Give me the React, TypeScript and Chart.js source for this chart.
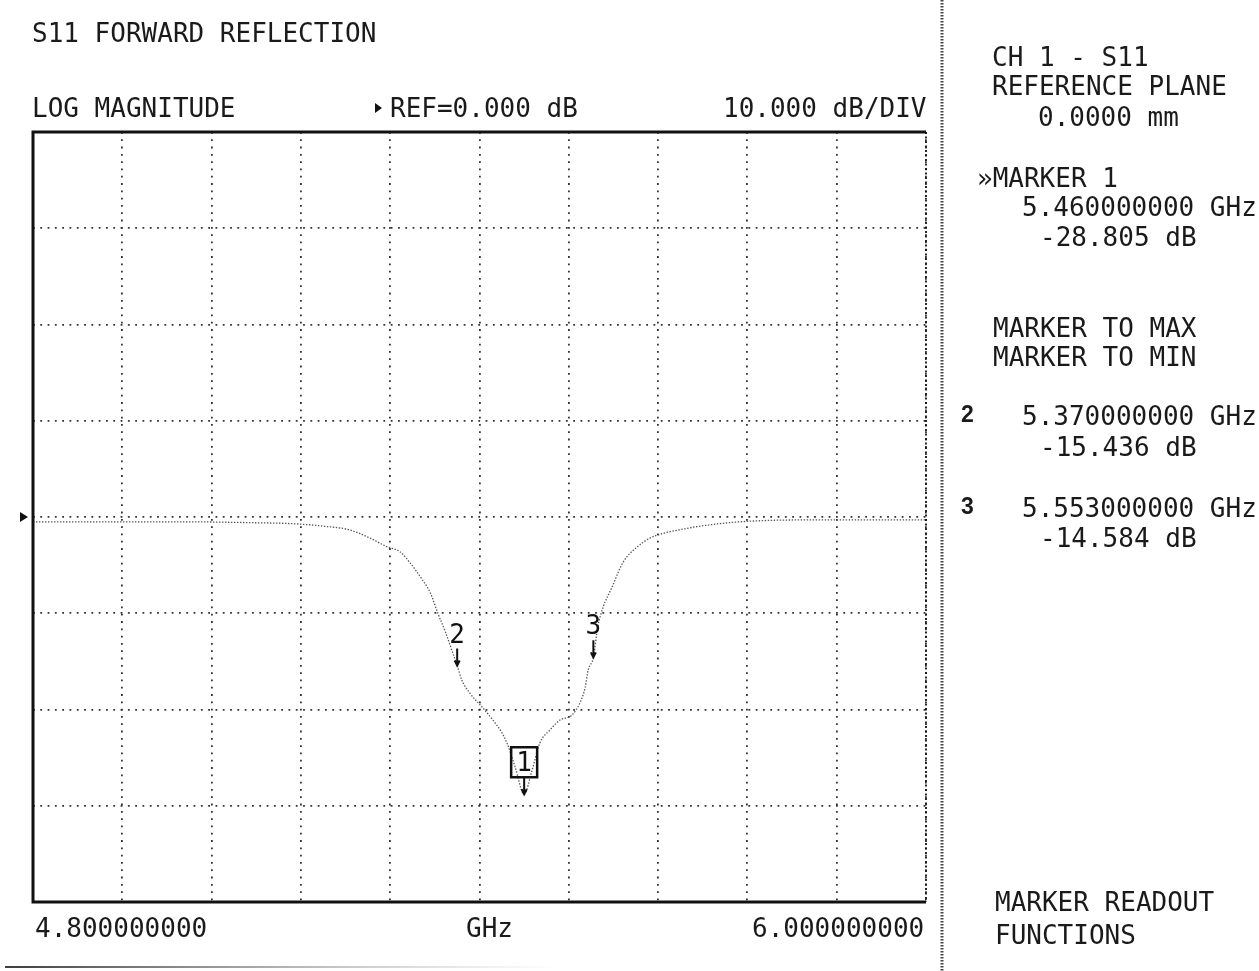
import React, { useEffect, useRef } from "react";
import { Chart, registerables } from "chart.js";

Chart.register(...registerables);

// ---- data ----
const freqGHz = [
  4.8, 4.9, 5.0, 5.1, 5.15, 5.19, 5.226, 5.253, 5.276, 5.293, 5.307, 5.323,
  5.334, 5.344, 5.354, 5.364, 5.37, 5.376, 5.387, 5.403, 5.418, 5.43, 5.437,
  5.448, 5.46, 5.47, 5.481, 5.495, 5.508, 5.524, 5.535, 5.542, 5.546, 5.553,
  5.559, 5.566, 5.578, 5.593, 5.612, 5.629, 5.647, 5.674, 5.692, 5.75, 5.85,
  5.95, 6.0,
];
const s11dB = [
  -0.5, -0.5, -0.5, -0.6, -0.7, -0.95, -1.35, -2.2, -3.1, -3.6, -4.8, -6.5,
  -7.9, -10.0, -11.9, -14.1, -15.4, -16.9, -18.3, -19.7, -21.1, -22.4, -23.5,
  -26.0, -28.8, -26.5, -23.5, -22.1, -21.1, -20.6, -19.3, -17.7, -15.9, -14.6,
  -11.4, -9.4, -7.3, -4.7, -3.1, -2.2, -1.7, -1.25, -1.0, -0.5, -0.3, -0.3,
  -0.3,
];
const markerIds = ["1", "2", "3"];
const markerFreqGHz = [5.46, 5.37, 5.553];
const markerDb = [-28.805, -15.436, -14.584];
const xGridGHz = [4.8, 4.92, 5.04, 5.16, 5.28, 5.4, 5.52, 5.64, 5.76, 5.88, 6.0];
const yGridDb = [40, 30, 20, 10, 0, -10, -20, -30, -40];
const refLevelDb = 0;
const startLabel = "4.800000000";
const stopLabel = "6.000000000";

const W = 1259;
const H = 971;
const MONO = '"DejaVu Sans Mono", "Liberation Mono", monospace';
const INK = "#1a1a1a";

const overlayPlugin = {
  id: "vnaOverlay",
  afterDraw(chart: any) {
    const { ctx, chartArea, scales } = chart;
    const { left, top, right, bottom } = chartArea;
    const xs = scales.x;
    const ys = scales.y;
    ctx.save();

    // frame
    ctx.strokeStyle = "#111";
    ctx.lineWidth = 3;
    ctx.setLineDash([]);
    ctx.beginPath();
    ctx.moveTo(right, bottom);
    ctx.lineTo(left, bottom);
    ctx.lineTo(left, top);
    ctx.lineTo(right, top);
    ctx.stroke();
    ctx.lineWidth = 1.8;
    ctx.setLineDash([2, 2.5]);
    ctx.beginPath();
    ctx.moveTo(right, top);
    ctx.lineTo(right, bottom);
    ctx.stroke();
    ctx.setLineDash([]);

    // reference level arrow
    const yRef = ys.getPixelForValue(refLevelDb);
    ctx.fillStyle = "#111";
    ctx.beginPath();
    ctx.moveTo(left - 13, yRef - 5);
    ctx.lineTo(left - 5, yRef);
    ctx.lineTo(left - 13, yRef + 5);
    ctx.closePath();
    ctx.fill();

    // markers
    ctx.font = `26px ${MONO}`;
    ctx.textAlign = "center";
    ctx.textBaseline = "alphabetic";
    markerIds.forEach((id, i) => {
      const px = xs.getPixelForValue(markerFreqGHz[i]);
      const py = ys.getPixelForValue(markerDb[i]);
      ctx.strokeStyle = "#111";
      ctx.lineWidth = 2;
      ctx.beginPath();
      ctx.moveTo(px, py - 17);
      ctx.lineTo(px, py);
      ctx.moveTo(px - 2.5, py - 5);
      ctx.lineTo(px, py);
      ctx.lineTo(px + 2.5, py - 5);
      ctx.stroke();
      ctx.fillStyle = "#111";
      if (i === 0) {
        ctx.lineWidth = 2.5;
        ctx.strokeRect(px - 13, py - 47, 26, 30);
        ctx.fillText(id, px, py - 23);
      } else {
        ctx.fillText(id, px, py - 23);
      }
    });

    // panel separator
    ctx.strokeStyle = "#444";
    ctx.lineWidth = 3;
    ctx.setLineDash([1.5, 1.5]);
    ctx.beginPath();
    ctx.moveTo(942, 0);
    ctx.lineTo(942, H);
    ctx.stroke();
    ctx.setLineDash([]);

    // scan edge line at the bottom
    const g = ctx.createLinearGradient(5, 0, 560, 0);
    g.addColorStop(0, "rgba(40,40,40,0.9)");
    g.addColorStop(0.4, "rgba(90,90,90,0.6)");
    g.addColorStop(1, "rgba(150,150,150,0)");
    ctx.strokeStyle = g;
    ctx.lineWidth = 2;
    ctx.beginPath();
    ctx.moveTo(5, 967);
    ctx.lineTo(560, 967);
    ctx.stroke();

    ctx.restore();
  },
};

const Txt = ({ x, top, children, size = 26, font = MONO, weight = 400 }: any) => (
  <div
    style={{
      position: "absolute",
      left: x,
      top: top - 3,
      fontFamily: font,
      fontSize: size,
      fontWeight: weight,
      lineHeight: `${size}px`,
      whiteSpace: "pre",
      color: INK,
    }}
  >
    {children}
  </div>
);

export default function App() {
  const ref = useRef<HTMLCanvasElement | null>(null);

  useEffect(() => {
    if (!ref.current) return;
    const gridOpts = { color: "#333", lineWidth: 1.8, drawTicks: false };
    const borderOpts = { display: false, dash: [1.8, 5.5] };
    const chart = new Chart(ref.current, {
      type: "line",
      data: {
        datasets: [
          {
            data: freqGHz.map((f, i) => ({ x: f, y: s11dB[i] })),
            borderColor: "#555",
            borderWidth: 1.3,
            borderDash: [1.4, 1.6],
            pointRadius: 0,
            fill: false,
            cubicInterpolationMode: "monotone",
          },
        ],
      },
      options: {
        responsive: false,
        maintainAspectRatio: false,
        animation: false,
        events: [],
        layout: { padding: { left: 33, top: 132, right: W - 926, bottom: H - 902 } },
        plugins: {
          legend: { display: false },
          tooltip: { enabled: false },
          title: { display: false },
        },
        scales: {
          x: {
            type: "linear",
            min: 4.8,
            max: 6.0,
            ticks: { display: false },
            grid: gridOpts,
            border: borderOpts,
            afterBuildTicks: (s: any) => {
              s.ticks = xGridGHz.map((v) => ({ value: v }));
            },
            afterFit: (s: any) => {
              s.height = 0;
            },
          },
          y: {
            type: "linear",
            min: -40,
            max: 40,
            ticks: { display: false },
            grid: gridOpts,
            border: borderOpts,
            afterBuildTicks: (s: any) => {
              s.ticks = yGridDb.map((v) => ({ value: v }));
            },
            afterFit: (s: any) => {
              s.width = 0;
            },
          },
        },
      } as any,
      plugins: [overlayPlugin],
    });
    return () => chart.destroy();
  }, []);

  const fmtF = (f: number) => `${f.toFixed(9)} GHz`;
  const fmtD = (d: number) => `${d.toFixed(3)} dB`;

  return (
    <div
      style={{
        position: "absolute",
        left: 0,
        top: 0,
        width: W,
        height: H,
        background: "#fff",
        overflow: "hidden",
      }}
    >
      <canvas
        ref={ref}
        width={W}
        height={H}
        style={{ position: "absolute", left: 0, top: 0, width: W, height: H, display: "block" }}
      />
      <Txt x={32} top={23}>S11 FORWARD REFLECTION</Txt>
      <Txt x={32} top={98}>LOG MAGNITUDE</Txt>
      <div
        style={{
          position: "absolute",
          left: 375,
          top: 103,
          width: 0,
          height: 0,
          borderLeft: "7px solid #111",
          borderTop: "5px solid transparent",
          borderBottom: "5px solid transparent",
        }}
      />
      <Txt x={390} top={98}>{`REF=${refLevelDb.toFixed(3)} dB`}</Txt>
      <Txt x={723} top={98}>10.000 dB/DIV</Txt>
      <Txt x={35} top={918}>{startLabel}</Txt>
      <Txt x={466} top={918}>GHz</Txt>
      <Txt x={752} top={918}>{stopLabel}</Txt>

      <Txt x={992} top={47}>CH 1 - S11</Txt>
      <Txt x={992} top={76}>REFERENCE PLANE</Txt>
      <Txt x={1038} top={107}>0.0000 mm</Txt>
      <Txt x={977} top={168}>»MARKER 1</Txt>
      <Txt x={1022} top={197}>{fmtF(markerFreqGHz[0])}</Txt>
      <Txt x={1040} top={227}>{fmtD(markerDb[0])}</Txt>
      <Txt x={993} top={318}>MARKER TO MAX</Txt>
      <Txt x={993} top={347}>MARKER TO MIN</Txt>
      <Txt x={961} top={406} size={23} font='"Liberation Sans", Arial, sans-serif' weight={700}>
        {markerIds[1]}
      </Txt>
      <Txt x={1022} top={406}>{fmtF(markerFreqGHz[1])}</Txt>
      <Txt x={1040} top={437}>{fmtD(markerDb[1])}</Txt>
      <Txt x={961} top={498} size={23} font='"Liberation Sans", Arial, sans-serif' weight={700}>
        {markerIds[2]}
      </Txt>
      <Txt x={1022} top={498}>{fmtF(markerFreqGHz[2])}</Txt>
      <Txt x={1040} top={528}>{fmtD(markerDb[2])}</Txt>
      <Txt x={995} top={892}>MARKER READOUT</Txt>
      <Txt x={995} top={925}>FUNCTIONS</Txt>
    </div>
  );
}
